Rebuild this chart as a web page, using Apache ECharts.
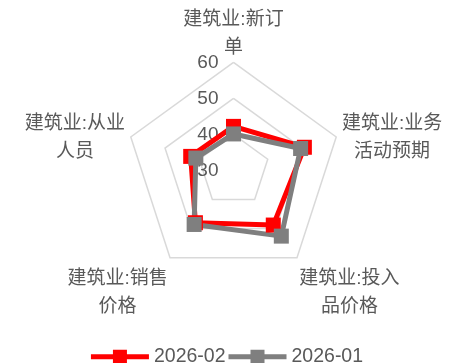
<!DOCTYPE html>
<html>
<head>
<meta charset="utf-8">
<script src="https://cdn.jsdelivr.net/npm/echarts@6/dist/echarts.min.js"></script>
<style>
  html, body { margin: 0; padding: 0; background: #ffffff; }
  #chart { width: 454px; height: 363px; }
</style>
</head>
<body>
<div id="chart"></div>
<script>
// Indicator names (line breaks as wrapped on the chart), counter-clockwise from the top
const indicatorNames = [
  '建筑业:新订\n单',
  '建筑业:从业\n人员',
  '建筑业:销售\n价格',
  '建筑业:投入\n品价格',
  '建筑业:业务\n活动预期'
];
const seriesNames = ['2026-02', '2026-01'];
const valuesFeb = [42.2, 42.5, 48.0, 48.8, 50.7];
const valuesJan = [40.1, 41.0, 48.6, 52.6, 49.6];
const axisMin = 30;
const axisMax = 60;

const TEXT = '#595959';
const FONT = '"Liberation Sans", "Noto Sans CJK SC", sans-serif';

// Legend glyph: a thick line with a square marker in the middle
const LINE_MARK_ICON = 'path://M0,4.5L22,4.5L22,0L36,0L36,4.5L58,4.5L58,9.5L36,9.5L36,14L22,14L22,9.5L0,9.5Z';

// Anchor of each name block relative to its axis end
const nameAnchor = [
  { align: 'center', verticalAlign: 'middle', gap: 29, padding: 0 },
  { align: 'right', verticalAlign: 'middle', gap: 6, padding: [6, 0, 0, 0] },
  { align: 'right', verticalAlign: 'top', gap: 4, padding: [4, 0, 0, 0] },
  { align: 'left', verticalAlign: 'top', gap: 4, padding: [4, 0, 0, 0] },
  { align: 'left', verticalAlign: 'middle', gap: 6, padding: [6, 0, 0, 0] }
];

const indicator = indicatorNames.map((name, i) => {
  const a = nameAnchor[i];
  const ind = {
    name: name,
    min: axisMin,
    max: axisMax,
    nameGap: a.gap,
    nameMoveOverlap: false,
    nameTextStyle: { align: a.align, verticalAlign: a.verticalAlign, padding: a.padding }
  };
  if (i === 0) {
    ind.axisLabel = {
      show: true,
      color: TEXT,
      fontSize: 19,
      fontFamily: FONT,
      margin: 15
    };
  }
  return ind;
});

const chart = echarts.init(document.getElementById('chart'), null, { renderer: 'canvas' });

chart.setOption({
  animation: false,
  backgroundColor: '#ffffff',
  color: ['#ff0000', '#7f7f7f'],
  legend: {
    data: seriesNames.map(function (n) { return { name: n, icon: LINE_MARK_ICON }; }),
    left: 'center',
    top: 342,
    itemWidth: 58,
    itemHeight: 14,
    itemGap: 3,
    textStyle: { color: TEXT, fontSize: 19.5, fontFamily: FONT }
  },
  radar: {
    center: [233.5, 170.3],
    radius: 108,
    startAngle: 90,
    splitNumber: 3,
    shape: 'polygon',
    axisName: {
      color: TEXT,
      fontSize: 19,
      fontFamily: FONT,
      formatter: function (name) {
        return name.split('\n').map(function (line) { return '{c|' + line + '}'; }).join('\n');
      },
      rich: {
        c: { align: 'center', color: TEXT, fontSize: 19, lineHeight: 28, fontFamily: FONT }
      }
    },
    axisLine: { show: false },
    axisTick: { show: false },
    axisLabel: { show: false },
    splitArea: { show: false },
    splitLine: { lineStyle: { color: '#d9d9d9', width: 1.5 } },
    indicator: indicator
  },
  series: [{
    type: 'radar',
    data: [
      {
        name: seriesNames[0],
        value: valuesFeb,
        symbol: 'rect',
        symbolSize: 15,
        lineStyle: { width: 5, color: '#ff0000' },
        itemStyle: { color: '#ff0000' }
      },
      {
        name: seriesNames[1],
        value: valuesJan,
        symbol: 'rect',
        symbolSize: 15,
        lineStyle: { width: 5, color: '#7f7f7f' },
        itemStyle: { color: '#7f7f7f' }
      }
    ]
  }]
});
</script>
</body>
</html>
